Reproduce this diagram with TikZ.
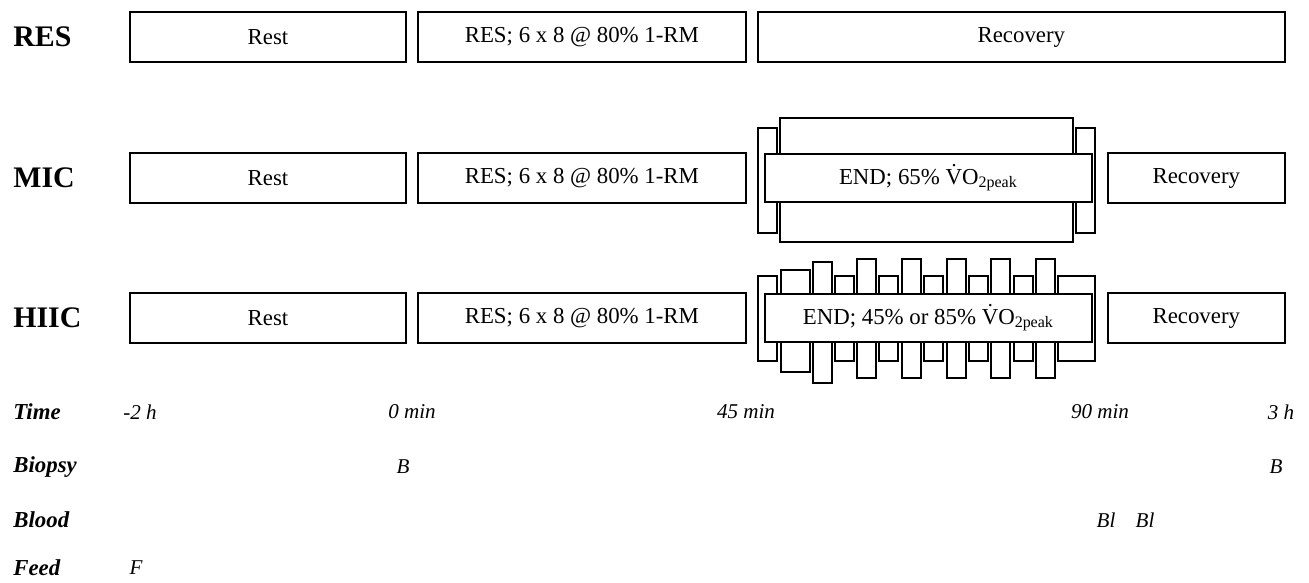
\documentclass[tikz,border=0pt]{standalone}
\usepackage{fontspec}
\setmainfont{Liberation Serif}
\usetikzlibrary{positioning}

\begin{document}
\begin{tikzpicture}[
  x=0.02cm, y=-0.02cm,
  phase/.style={draw, fill=white, line width=0.9pt, inner sep=0pt, outer sep=0pt,
                minimum height=1cm, font=\fontsize{13}{15}\selectfont},
  bar/.style={draw, fill=white, line width=0.9pt},
  group/.style={anchor=west, inner sep=0pt, font=\fontsize{17}{20}\selectfont\bfseries},
  rowlabel/.style={anchor=west, inner sep=0pt, font=\fontsize{13}{15}\selectfont\bfseries\itshape},
  evt/.style={inner sep=0pt, font=\fontsize{12}{14}\selectfont\itshape},
  node distance=0.4cm and 0.24cm
]
\useasboundingbox (0,0) rectangle (1309,582);

% Group labels
\node[group] (gRes)  at (13,37)  {RES};
\node[group] (gMic)  at (13,178) {MIC};
\node[group] (gHiic) at (13,318) {HIIC};

% RES row
\node[phase, minimum width=5.52cm, anchor=west] (resRest) at (130,37) {Rest};
\node[phase, minimum width=6.56cm, right=of resRest] (resEx)  {RES; 6 x 8 @ 80\% 1-RM};
\node[phase, minimum width=10.54cm, right=of resEx]  (resRec) {Recovery};

% MIC row
\draw[bar] (780,118) rectangle (1073,242);
\draw[bar] (758,128) rectangle (777,233);
\draw[bar] (1076,128) rectangle (1095,233);
\node[phase, minimum width=5.52cm, anchor=west] (micRest) at (130,178) {Rest};
\node[phase, minimum width=6.56cm, right=of micRest] (micEx) {RES; 6 x 8 @ 80\% 1-RM};
\node[phase, minimum width=6.54cm, minimum height=0.96cm, right=0.38cm of micEx] (micEnd)
  {END; 65\% \.{V}O\textsubscript{2peak}};
\node[phase, minimum width=3.54cm, right=0.32cm of micEnd] (micRec) {Recovery};

% HIIC row (interval bars)
\draw[bar] (758,276) rectangle (777,361);
\draw[bar] (781,270) rectangle (810,372);
\draw[bar] (813,262) rectangle (832,383);
\foreach \xa/\ya/\yb in {835/276/361, 857/259/378, 879/276/361, 902/259/378,
                         924/276/361, 947/259/378, 969/276/361, 991/259/378,
                         1014/276/361, 1036/259/378}
  \draw[bar] (\xa,\ya) rectangle (\xa+19,\yb);
\draw[bar] (1058,276) rectangle (1095,361);
\node[phase, minimum width=5.52cm, anchor=west] (hiRest) at (130,318) {Rest};
\node[phase, minimum width=6.56cm, right=of hiRest] (hiEx) {RES; 6 x 8 @ 80\% 1-RM};
\node[phase, minimum width=6.54cm, minimum height=0.96cm, right=0.38cm of hiEx] (hiEnd)
  {END; 45\% or 85\% \.{V}O\textsubscript{2peak}};
\node[phase, minimum width=3.54cm, right=0.32cm of hiEnd] (hiRec) {Recovery};

% Time line and sampling
\node[rowlabel] (tTime)   at (13,412) {Time};
\node[rowlabel] (tBiopsy) at (13,467) {Biopsy};
\node[rowlabel] (tBlood)  at (13,520) {Blood};
\node[rowlabel] (tFeed)   at (13,568) {Feed};

\node[evt] (tm2h)  at (140,412)  {-2 h};
\node[evt] (t0)    at (412,412)  {0 min};
\node[evt] (t45)   at (746,412)  {45 min};
\node[evt] (t90)   at (1100,412) {90 min};
\node[evt] (t3h)   at (1281,412) {3 h};

\node[evt] (bio1)  at (403,467)  {B};
\node[evt] (bio2)  at (1276,467) {B};
\node[evt] (bl1)   at (1106,520) {Bl};
\node[evt] (bl2)   at (1145,520) {Bl};
\node[evt] (feed1) at (136,568)  {F};
\end{tikzpicture}
\end{document}
